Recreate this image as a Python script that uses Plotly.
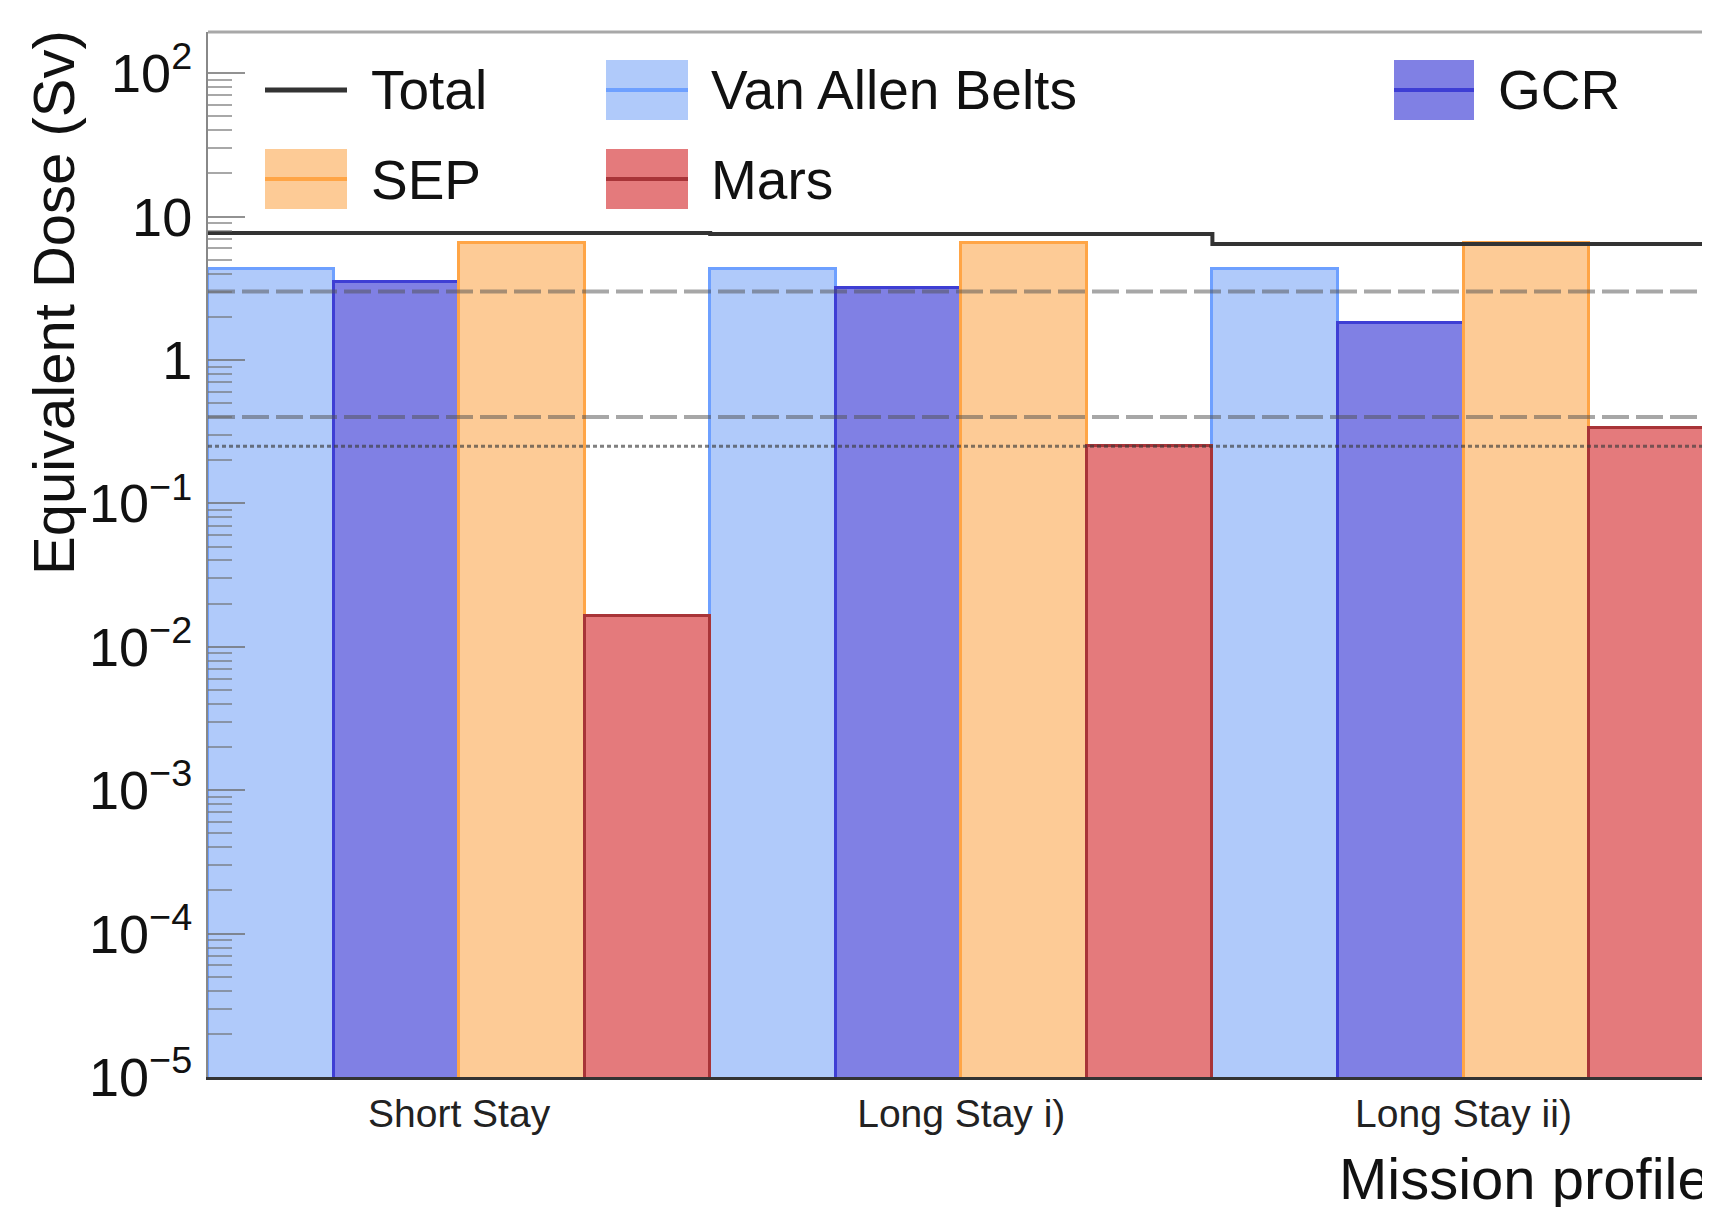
import plotly.graph_objects as go

# ---------------- data ----------------
categories = ["Short Stay", "Long Stay i)", "Long Stay ii)"]
van_allen = [4.3, 4.3, 4.3]
gcr = [3.5, 3.2, 1.8]
sep = [6.5, 6.5, 6.5]
mars = [0.0165, 0.25, 0.335]
total = [7.7, 7.57, 6.44]
dashed_limits = [3.0, 0.4]
dotted_limits = [0.25]
ytick_vals = [1e-5, 1e-4, 1e-3, 1e-2, 1e-1, 1, 10, 100]
ytick_text = ["10<sup>−5</sup>", "10<sup>−4</sup>", "10<sup>−3</sup>", "10<sup>−2</sup>",
              "10<sup>−1</sup>", "1", "10", "10<sup>2</sup>"]
legend_labels = ["Total", "Van Allen Belts", "GCR", "SEP", "Mars"]

# ---------------- layout geometry ----------------
OFF = 8                      # default body margin of the written page
W, H = 1710 - OFF, 1207 - OFF
L, T, B, R = 208 - OFF, 32 - OFF, 130, 0
PW, PH = W - L - R, H - T - B
FONT = "Liberation Sans, Arial, Helvetica, sans-serif"

def px(x):
    return (x - OFF - L) / PW

def py(y):
    return (H - B - (y - OFF)) / PH

styles = {
    "Van Allen Belts": ("rgb(176,202,250)", "rgb(110,160,255)"),
    "GCR": ("rgb(128,128,228)", "rgb(62,62,212)"),
    "SEP": ("rgb(253,203,150)", "rgb(255,165,70)"),
    "Mars": ("rgb(228,122,124)", "rgb(168,52,56)"),
}

xpos = list(range(len(categories)))
fig = go.Figure()
for name, vals in [("Van Allen Belts", van_allen), ("GCR", gcr), ("SEP", sep), ("Mars", mars)]:
    fill, edge = styles[name]
    fig.add_trace(go.Bar(x=xpos, y=vals, name=name, offsetgroup=name,
                         marker=dict(color=fill, line=dict(color=edge, width=3)),
                         showlegend=False))

edges = [i - 0.5 for i in xpos] + [xpos[-1] + 0.5]
fig.add_trace(go.Scatter(x=edges, y=total + [total[-1]], mode="lines",
                         line=dict(color="#333333", width=4, shape="hv"),
                         showlegend=False))

for v in dashed_limits:
    fig.add_trace(go.Scatter(x=[edges[0], edges[-1]], y=[v, v], mode="lines",
                             line=dict(color="rgba(80,80,80,0.5)", width=4, dash="27px,7px"),
                             showlegend=False))
for v in dotted_limits:
    fig.add_trace(go.Scatter(x=[edges[0], edges[-1]], y=[v, v], mode="lines",
                             line=dict(color="rgba(60,60,60,0.65)", width=3, dash="4px,3px"),
                             showlegend=False))

minor_vals = [k * 10.0 ** n for n in range(-5, 3) for k in range(2, 10)]

fig.update_layout(
    width=W, height=H,
    margin=dict(l=L, r=R, t=T, b=B, pad=0, autoexpand=False),
    paper_bgcolor="white", plot_bgcolor="white",
    barmode="group", bargap=0, bargroupgap=0,
    font=dict(family=FONT, color="#111111"),
    showlegend=False,
    xaxis=dict(range=[-0.5, -0.5 + PW / 502.2], tickvals=xpos, ticktext=categories,
               tickfont=dict(size=39, family=FONT, color="#222222"),
               showline=True, linecolor="#333333", linewidth=3, automargin=False,
               ticks="", showgrid=False, zeroline=False, ticklabelstandoff=0),
    yaxis=dict(type="log", range=[-5, -5 + PH / 143.4], automargin=False,
               tickvals=ytick_vals, ticktext=ytick_text,
               tickfont=dict(size=54, family=FONT, color="#111111"),
               ticks="inside", ticklen=37, tickwidth=2, tickcolor="rgba(110,110,110,0.75)",
               minor=dict(tickvals=minor_vals, ticks="inside", ticklen=24, tickwidth=2,
                          tickcolor="rgba(110,110,110,0.6)", showgrid=False),
               showline=True, linecolor="#888888", linewidth=2,
               showgrid=False, zeroline=False, ticklabelstandoff=3),
)

shapes = []
annotations = []
# top frame
shapes.append(dict(type="line", xref="paper", yref="paper", x0=0, x1=1, y0=1, y1=1,
                   line=dict(color="#a8a8a8", width=3)))

# legend
def legend_box(x0, x1, y0, y1, fill, edge):
    shapes.append(dict(type="rect", xref="paper", yref="paper",
                       x0=px(x0), x1=px(x1), y0=py(y1), y1=py(y0),
                       fillcolor=fill, line=dict(width=0)))
    ym = (y0 + y1) / 2
    shapes.append(dict(type="line", xref="paper", yref="paper",
                       x0=px(x0), x1=px(x1), y0=py(ym), y1=py(ym),
                       line=dict(color=edge, width=4)))

def legend_text(x, y, text):
    annotations.append(dict(xref="paper", yref="paper", x=px(x), y=py(y), text=text,
                            showarrow=False, xanchor="left", yanchor="middle",
                            font=dict(size=55, family=FONT, color="#111111")))

shapes.append(dict(type="line", xref="paper", yref="paper", x0=px(265), x1=px(347),
                   y0=py(90), y1=py(90), line=dict(color="#333333", width=5)))
legend_text(369, 90, legend_labels[0])
legend_box(606, 688, 60, 120, *styles["Van Allen Belts"])
legend_text(709, 90, legend_labels[1])
legend_box(1394, 1474, 60, 120, *styles["GCR"])
legend_text(1496, 90, legend_labels[2])
legend_box(265, 347, 149, 209, *styles["SEP"])
legend_text(369, 180, legend_labels[3])
legend_box(606, 688, 149, 209, *styles["Mars"])
legend_text(709, 180, legend_labels[4])

# axis titles
annotations.append(dict(xref="paper", yref="paper", x=px(53), y=py(303),
                        text="Equivalent Dose (Sv)", textangle=-90, showarrow=False,
                        xanchor="center", yanchor="middle",
                        font=dict(size=58, family=FONT, color="#111111")))
annotations.append(dict(xref="paper", yref="paper", x=px(1337), y=py(1178),
                        text="Mission profile", showarrow=False,
                        xanchor="left", yanchor="middle",
                        font=dict(size=58, family=FONT, color="#111111")))

fig.update_layout(shapes=shapes, annotations=annotations)
fig.write_html("out.html")
